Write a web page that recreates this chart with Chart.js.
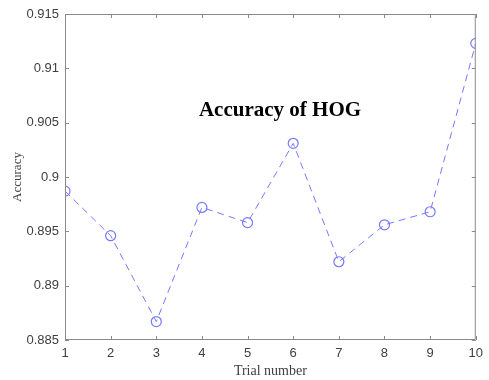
<html lang="en">
<head>
    <meta charset="UTF-8">
    <title>Accuracy of HOG</title>
    <script src="https://cdn.jsdelivr.net/npm/chart.js"></script>
    <style>
        html, body { margin: 0; padding: 0; background: #fff; }
        #wrap { width: 489px; height: 380px; }
    </style>
</head>
<body>
    <div id="wrap"><canvas id="hogChart" width="489" height="380"></canvas></div>

    <script>
        // data
        const trials = [1, 2, 3, 4, 5, 6, 7, 8, 9, 10];
        const accuracy = [0.8987, 0.8946, 0.8867, 0.8972, 0.8958, 0.9031, 0.8922, 0.8956, 0.8968, 0.9123];
        const yTicks = [0.885, 0.89, 0.895, 0.9, 0.905, 0.91, 0.915];

        const lineBlue = 'rgb(120,120,255)';
        const axisGrey = '#8a8a8a';

        // matlab style box with inward ticks + the title inside the plot
        const boxPlugin = {
            id: 'boxPlugin',
            afterDraw(chart) {
                const ctx = chart.ctx;
                const a = chart.chartArea;
                const xs = chart.scales.x, ys = chart.scales.y;
                ctx.save();
                ctx.strokeStyle = axisGrey;
                ctx.lineWidth = 1;
                ctx.beginPath();
                ctx.rect(a.left + 0.5, a.top + 0.5, a.right - a.left - 1, a.bottom - a.top - 1);
                trials.forEach(t => {
                    const px = Math.round(xs.getPixelForValue(t)) + 0.5;
                    ctx.moveTo(px, a.bottom); ctx.lineTo(px, a.bottom - 4);
                    ctx.moveTo(px, a.top); ctx.lineTo(px, a.top + 4);
                });
                yTicks.forEach(v => {
                    const py = Math.round(ys.getPixelForValue(v)) + 0.5;
                    ctx.moveTo(a.left, py); ctx.lineTo(a.left + 4, py);
                    ctx.moveTo(a.right, py); ctx.lineTo(a.right - 4, py);
                });
                ctx.stroke();

                ctx.fillStyle = '#000';
                ctx.font = 'bold 21px "Liberation Serif"';
                ctx.textAlign = 'center';
                ctx.textBaseline = 'middle';
                ctx.fillText('Accuracy of HOG', 280, 111);
                ctx.restore();
            }
        };

        new Chart(document.getElementById('hogChart'), {
            type: 'line',
            data: {
                datasets: [{
                    data: trials.map((t, i) => ({ x: t, y: accuracy[i] })),
                    borderColor: lineBlue,
                    borderWidth: 1,
                    borderDash: [7, 5],
                    pointStyle: 'circle',
                    pointRadius: 5,
                    pointBorderWidth: 1.2,
                    pointBorderColor: lineBlue,
                    pointBackgroundColor: 'rgba(0,0,0,0)',
                    tension: 0,
                    fill: false
                }]
            },
            options: {
                responsive: false,
                animation: false,
                layout: { padding: { left: 10, top: 14, right: 7, bottom: 0 } },
                plugins: {
                    legend: { display: false },
                    tooltip: { enabled: false }
                },
                scales: {
                    x: {
                        type: 'linear',
                        min: 1,
                        max: 10,
                        afterBuildTicks(scale) { scale.ticks = trials.map(v => ({ value: v })); },
                        afterFit(scale) { scale.height = 40; },
                        grid: { display: false, drawTicks: false },
                        border: { display: false },
                        ticks: {
                            padding: 6,
                            color: '#404040',
                            font: { family: '"Liberation Sans"', size: 13 },
                            maxRotation: 0
                        },
                        title: {
                            display: true,
                            text: 'Trial number',
                            color: '#404040',
                            font: { family: '"Liberation Serif"', size: 14 },
                            padding: { top: 0, bottom: 0 }
                        }
                    },
                    y: {
                        min: 0.885,
                        max: 0.915,
                        afterBuildTicks(scale) { scale.ticks = yTicks.map(v => ({ value: v })); },
                        afterFit(scale) { scale.width = 55; },
                        grid: { display: false, drawTicks: false },
                        border: { display: false },
                        ticks: {
                            padding: 6,
                            color: '#404040',
                            font: { family: '"Liberation Sans"', size: 13 },
                            callback: v => String(parseFloat(v.toFixed(3)))
                        },
                        title: {
                            display: true,
                            text: 'Accuracy',
                            color: '#404040',
                            font: { family: '"Liberation Serif"', size: 13 },
                            padding: { top: 0, bottom: 0 }
                        }
                    }
                }
            },
            plugins: [boxPlugin]
        });
    </script>
</body>
</html>
